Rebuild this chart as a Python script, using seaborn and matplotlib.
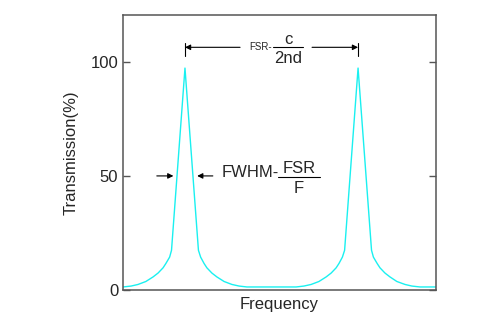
import numpy as np
import pandas as pd
import matplotlib
matplotlib.use("Agg")
import matplotlib.pyplot as plt
import seaborn as sns

# Transmission spectrum of a Fabry-Perot etalon (two orders)
frequency = [0.0, 2.6, 4.8, 7.3, 9.6, 11.2, 12.8, 13.7, 14.9, 15.5,
             19.8,
             24.1, 24.8, 25.9, 26.8, 28.4, 30.0, 32.3, 34.8, 37.1, 39.6,
             55.3, 57.8, 60.1, 62.6, 64.9, 66.5, 68.1, 69.0, 70.1, 70.8,
             75.1,
             79.4, 80.0, 81.2, 82.1, 83.7, 85.3, 87.5, 90.1, 92.3, 94.9, 100.0]
transmission = [1.2, 1.6, 2.3, 3.6, 5.6, 7.3, 9.6, 11.5, 14.3, 17.3,
                97.2,
                17.3, 14.3, 11.5, 9.6, 7.3, 5.6, 3.6, 2.3, 1.6, 1.2,
                1.2, 1.6, 2.3, 3.6, 5.6, 7.3, 9.6, 11.5, 14.3, 17.3,
                97.2,
                17.3, 14.3, 11.5, 9.6, 7.3, 5.6, 3.6, 2.3, 1.6, 1.2, 1.2]
y_ticks = [0, 50, 100]
y_tick_labels = ["0", "50", "100"]

df = pd.DataFrame({"Frequency": frequency, "Transmission": transmission})

sns.set_style("white")
plt.rcParams["font.family"] = ["Liberation Sans", "DejaVu Sans"]

fig = plt.figure(figsize=(5.0, 3.32), dpi=100)
ax = fig.add_axes([0.246, 0.1274, 0.626, 0.8283])

sns.lineplot(data=df, x="Frequency", y="Transmission", estimator=None,
             sort=False, color="#1AF0F0", lw=1.0, ax=ax)

ax.set_xlim(0, 100)
ax.set_ylim(0, 120.6)
ax.set_xticks([])
ax.set_yticks(y_ticks)
ax.set_yticklabels(y_tick_labels, fontsize=12)
ax.tick_params(axis="y", direction="in", length=5, width=1.0, color="#555555",
               left=True, right=True, labelleft=True, pad=3.5)

for side in ["left", "right", "top", "bottom"]:
    ax.spines[side].set_visible(True)
    ax.spines[side].set_color("#555555")
    ax.spines[side].set_linewidth(1.1)

ax.set_xlabel("Frequency", fontsize=12)
ax.xaxis.set_label_coords(0.5, -0.025)
ax.set_ylabel("Transmission(%)", fontsize=12)
ax.yaxis.set_label_coords(-0.165, 0.5)
ax.yaxis.label.set_verticalalignment("center")

# Peak positions taken from the spectrum itself
t = np.asarray(transmission)
f = np.asarray(frequency)
half = len(t) // 2
p1 = f[np.argmax(t[:half])]
p2 = f[half + np.argmax(t[half:])]

arrow = dict(arrowstyle="-|>", color="black", lw=0.8, mutation_scale=8,
             shrinkA=0, shrinkB=0)

# Free spectral range marker
y_fsr = 106.3
ax.plot([p1, p1], [102.5, 108.1], color="black", lw=0.8)
ax.plot([p2, p2], [102.5, 108.1], color="black", lw=0.8)
ax.annotate("", xy=(p1, y_fsr), xytext=(37.4, y_fsr), arrowprops=arrow)
ax.annotate("", xy=(p2, y_fsr), xytext=(60.4, y_fsr), arrowprops=arrow)
ax.text(44.1, y_fsr, "FSR-", fontsize=7, ha="center", va="center")
ax.plot([47.9, 57.5], [y_fsr, y_fsr], color="black", lw=0.8)
ax.text(52.9, 107.9, "c", fontsize=12, ha="center", va="baseline")
ax.text(52.9, 99.5, "2nd", fontsize=12, ha="center", va="baseline")

# Full width at half maximum marker
y_half = 49.9
ax.annotate("", xy=(16.1, y_half), xytext=(10.8, y_half), arrowprops=arrow)
ax.annotate("", xy=(23.7, y_half), xytext=(28.7, y_half), arrowprops=arrow)
ax.text(31.5, 49.6, "FWHM-", fontsize=12, ha="left", va="baseline")
ax.plot([49.5, 62.9], [49.6, 49.6], color="black", lw=0.8)
ax.text(56.4, 51.3, "FSR", fontsize=12, ha="center", va="baseline")
ax.text(56.0, 42.3, "F", fontsize=12, ha="center", va="baseline")

fig.savefig("out.png", dpi=100)
